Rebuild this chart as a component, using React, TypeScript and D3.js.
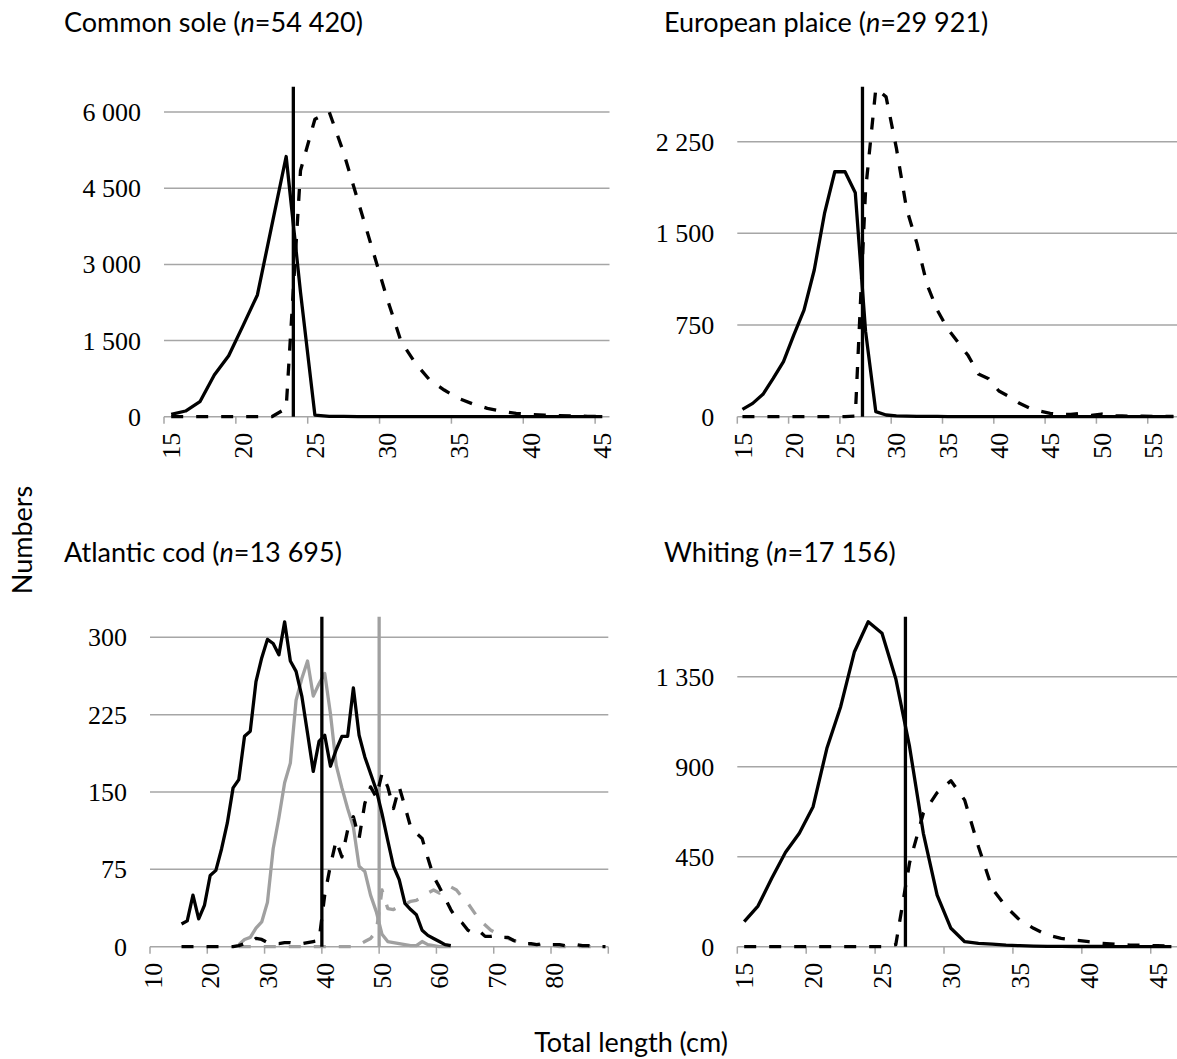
import React from 'react';
import * as d3 from 'd3';

// ---------- DATA ----------
// Common sole, lengths 15..45 cm
const soleStart = 15;
const soleBelow = [46, 112, 296, 821, 1202, 1794, 2398, 3765, 5125, 2450, 30, 8, 5, 3, 2, 1, 1, 1, 0, 0, 0, 0, 0, 0, 0, 0, 0, 0, 0, 0, 0];
const soleAbove = [0, 0, 0, 0, 0, 0, 0, 0, 164, 4850, 5860, 6000, 5200, 4250, 3300, 2350, 1480, 1050, 720, 525, 360, 250, 165, 110, 65, 45, 30, 20, 12, 8, 5];
const soleYTicks = [0, 1500, 3000, 4500, 6000];
const soleXTicks = [15, 20, 25, 30, 35, 40, 45];

// European plaice, lengths 15..57 cm
const plaiceStart = 15;
const plaiceBelow = [60, 109, 183, 313, 450, 668, 872, 1200, 1663, 2004, 2004, 1832, 700, 41, 14, 6, 4, 3, 2, 2, 1, 1, 1, 0, 0, 0, 0, 0, 0, 0, 0, 0, 0, 0, 0, 0, 0, 0, 0, 0, 0, 0, 0];
const plaiceAbove = [0, 0, 0, 0, 0, 0, 0, 0, 0, 0, 0, 5, 1850, 2685, 2617, 2200, 1700, 1420, 1080, 870, 720, 610, 500, 350, 310, 210, 165, 110, 70, 45, 28, 18, 18, 27, 10, 22, 8, 6, 4, 4, 3, 2, 2];
const plaiceYTicks = [0, 750, 1500, 2250];
const plaiceXTicks = [15, 20, 25, 30, 35, 40, 45, 50, 55];

// Atlantic cod
const codBlackStart = 15;
const codBlackSolid = [22, 25, 50, 27, 40, 69, 74, 95, 120, 154, 162, 204, 209, 257, 280, 298, 294, 283, 315, 277, 267, 243, 207, 170, 199, 205, 175, 191, 204, 204, 251, 205, 184, 168, 152, 129, 103, 78, 65, 42, 36, 31, 16, 11, 8, 5, 2, 1];
const codBlackDashed = [0, 0, 0, 0, 0, 0, 0, 0, 0, 0, 1, 3, 4, 8, 7, 4, 3, 3, 4, 4, 3, 3, 4, 5, 6, 50, 79, 103, 87, 113, 126, 105, 139, 155, 145, 168, 155, 134, 155, 136, 116, 110, 105, 86, 68, 58, 47, 36, 27, 23, 16, 13, 15, 10, 10, 11, 9, 9, 6, 5, 3, 3, 2, 3, 2, 2, 2, 1, 1, 2, 1, 1, 0, 0, 0];
const codGreyStart = 25;
const codGreySolid = [2, 7, 9, 18, 24, 43, 95, 125, 159, 178, 239, 260, 277, 243, 255, 265, 226, 176, 154, 134, 116, 78, 73, 50, 34, 12, 5, 4, 3, 2, 1, 1, 5, 2, 1, 0, 0, 0];
const codGreyDashed = [0, 0, 0, 0, 0, 0, 0, 0, 0, 0, 0, 0, 0, 0, 0, 0, 0, 0, 0, 0, 0, 2, 5, 8, 15, 55, 37, 36, 39, 41, 44, 45, 48, 52, 55, 52, 56, 58, 55, 48, 42, 34, 26, 21, 16, 13, 10, 8, 6, 4, 3, 2, 2, 1, 1, 1, 0, 0, 0, 0, 0, 0, 0, 0, 0];
const codYTicks = [0, 75, 150, 225, 300];
const codXTicks = [10, 20, 30, 40, 50, 60, 70, 80, 90];
const codXLabels = [10, 20, 30, 40, 50, 60, 70, 80];

// Whiting, lengths 15..46 cm
const whitingStart = 15;
const whitingBelow = [125, 203, 342, 472, 567, 700, 992, 1200, 1475, 1625, 1567, 1340, 1000, 567, 258, 92, 25, 17, 13, 8, 5, 3, 2, 2, 1, 1, 1, 0, 0, 0, 0, 0];
const whitingAbove = [0, 0, 0, 0, 0, 0, 0, 0, 0, 0, 0, 10, 420, 667, 770, 830, 733, 500, 290, 200, 133, 92, 58, 42, 33, 25, 17, 12, 8, 7, 5, 3];
const whitingYTicks = [0, 450, 900, 1350];
const whitingXTicks = [15, 20, 25, 30, 35, 40, 45];

// ---------- STYLE ----------
const BLACK = '#000000';
const GREY = '#a0a0a0';
const GRID = '#a6a6a6';
const SERIF = '"Liberation Serif", "DejaVu Serif", serif';
const SANS = 'Lato, "Open Sans", sans-serif';
const TICK_FS = 26;
const TITLE_FS = 27;
const LINE_W = 3.3;

type Series = { start: number; values: number[]; color: string; dashed: boolean };
type VLine = { pos: number; color: string };
type PanelDef = {
  title: string; n: string; tx: number; ty: number;
  x0: number; x1: number; top: number; bottom: number;
  xDomain: [number, number]; xTicks: number[]; xLabels: number[];
  yMax: number; yTicks: number[];
  series: Series[]; vlines: VLine[];
};

const fmt = (v: number) => d3.format(',')(v).replace(/,/g, '\u00a0');

const panels: PanelDef[] = [
  {
    title: 'Common sole', n: '54 420', tx: 64, ty: 32,
    x0: 164, x1: 609.5, top: 86.7, bottom: 416.7,
    xDomain: [15, 46], xTicks: soleXTicks, xLabels: soleXTicks,
    yMax: 6500, yTicks: soleYTicks,
    series: [
      { start: soleStart, values: soleAbove, color: BLACK, dashed: true },
      { start: soleStart, values: soleBelow, color: BLACK, dashed: false },
    ],
    vlines: [{ pos: 24, color: BLACK }],
  },
  {
    title: 'European plaice', n: '29 921', tx: 664, ty: 32,
    x0: 737.3, x1: 1178.5, top: 86.7, bottom: 416.7,
    xDomain: [15, 58], xTicks: plaiceXTicks, xLabels: plaiceXTicks,
    yMax: 2700, yTicks: plaiceYTicks,
    series: [
      { start: plaiceStart, values: plaiceAbove, color: BLACK, dashed: true },
      { start: plaiceStart, values: plaiceBelow, color: BLACK, dashed: false },
    ],
    vlines: [{ pos: 27.2, color: BLACK }],
  },
  {
    title: 'Atlantic cod', n: '13 695', tx: 64, ty: 562,
    x0: 150, x1: 608.3, top: 616.7, bottom: 946.7,
    xDomain: [10, 90], xTicks: codXTicks, xLabels: codXLabels,
    yMax: 320, yTicks: codYTicks,
    series: [
      { start: codGreyStart, values: codGreyDashed, color: GREY, dashed: true },
      { start: codGreyStart, values: codGreySolid, color: GREY, dashed: false },
      { start: codBlackStart, values: codBlackDashed, color: BLACK, dashed: true },
      { start: codBlackStart, values: codBlackSolid, color: BLACK, dashed: false },
    ],
    vlines: [{ pos: 50, color: GREY }, { pos: 40, color: BLACK }],
  },
  {
    title: 'Whiting', n: '17 156', tx: 664, ty: 562,
    x0: 737.3, x1: 1178.3, top: 616.7, bottom: 946.7,
    xDomain: [15, 47], xTicks: whitingXTicks, xLabels: whitingXTicks,
    yMax: 1650, yTicks: whitingYTicks,
    series: [
      { start: whitingStart, values: whitingAbove, color: BLACK, dashed: true },
      { start: whitingStart, values: whitingBelow, color: BLACK, dashed: false },
    ],
    vlines: [{ pos: 27.2, color: BLACK }],
  },
];

function Panel({ p }: { p: PanelDef }) {
  const x = d3.scaleLinear().domain(p.xDomain).range([p.x0, p.x1]);
  const y = d3.scaleLinear().domain([0, p.yMax]).range([p.bottom, p.top]);
  const line = d3.line<[number, number]>()
    .x(d => x(d[0] + 0.5))
    .y(d => y(d[1]));
  const greyV = p.vlines.filter(v => v.color === GREY);
  const blackV = p.vlines.filter(v => v.color !== GREY);
  const drawV = (v: VLine, i: number) => (
    <line key={'v' + i + v.pos} x1={x(v.pos)} x2={x(v.pos)} y1={y(p.yMax)} y2={y(0)} stroke={v.color} strokeWidth={LINE_W} />
  );
  return (
    <g>
      <text x={p.tx} y={p.ty} fontFamily={SANS} fontSize={TITLE_FS} fill="#000">
        {p.title + ' ('}<tspan fontStyle="italic">n</tspan>{'=' + p.n + ')'}
      </text>
      {p.yTicks.map(t => (
        <g key={'y' + t}>
          <line x1={p.x0} x2={p.x1} y1={y(t)} y2={y(t)} stroke={GRID} strokeWidth={1.5} />
          <text x={p.x0 - 23} y={y(t)} dy="0.35em" textAnchor="end" fontFamily={SERIF} fontSize={TICK_FS} fill="#000">{fmt(t)}</text>
        </g>
      ))}
      {p.xTicks.map(t => (
        <line key={'xt' + t} x1={x(t)} x2={x(t)} y1={p.bottom} y2={p.bottom + 7} stroke={GRID} strokeWidth={1.5} />
      ))}
      {p.xLabels.map(t => (
        <text key={'xl' + t} x={x(t + 0.5)} y={p.bottom + 16} dy="0.35em" textAnchor="end"
          transform={`rotate(-90, ${x(t + 0.5)}, ${p.bottom + 16})`}
          fontFamily={SERIF} fontSize={TICK_FS} fill="#000">{t}</text>
      ))}
      {greyV.map(drawV)}
      {p.series.map((s, i) => (
        <path key={'s' + i}
          d={line(s.values.map((v, j) => [s.start + j, v] as [number, number])) || ''}
          fill="none" stroke={s.color} strokeWidth={LINE_W}
          strokeDasharray={s.dashed ? '12 13' : undefined}
          strokeLinejoin="round" />
      ))}
      {blackV.map(drawV)}
    </g>
  );
}

export default function App() {
  return (
    <svg width={1177} height={1059} viewBox="0 0 1177 1059"
      style={{ position: 'absolute', left: 0, top: 0, background: '#fff' }}>
      <rect x={0} y={0} width={1177} height={1059} fill="#fff" />
      {panels.map((p, i) => <Panel key={i} p={p} />)}
      <text transform="translate(32, 540) rotate(-90)" textAnchor="middle" fontFamily={SANS} fontSize={TITLE_FS} fill="#000">Numbers</text>
      <text x={631} y={1052} textAnchor="middle" fontFamily={SANS} fontSize={TITLE_FS} fill="#000">Total length (cm)</text>
    </svg>
  );
}
